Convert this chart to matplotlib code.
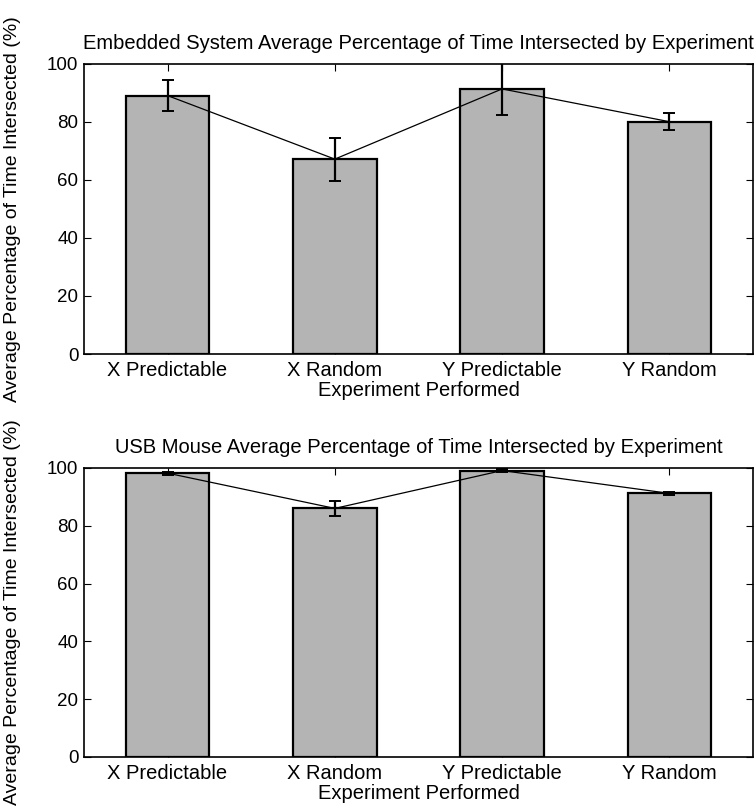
import numpy as np
import matplotlib.pyplot as plt

plt.rcParams['font.family'] = ['Liberation Sans', 'DejaVu Sans']

# mean percentage of time intersected, with spread, per experiment
experiments = ['X Predictable', 'X Random', 'Y Predictable', 'Y Random']
embedded_mean = [89.1, 67.2, 91.4, 80.1]
embedded_err = [5.4, 7.4, 9.1, 2.9]
usb_mean = [98.2, 86.0, 99.1, 91.2]
usb_err = [0.5, 2.6, 0.4, 0.5]

titles = ['Embedded System Average Percentage of Time Intersected by Experiment',
          'USB Mouse Average Percentage of Time Intersected by Experiment']
ylabel = 'Average Percentage of Time Intersected (%)'
xlabel = 'Experiment Performed'

fig = plt.figure(figsize=(7.56, 8.11), dpi=100)
ax_top = fig.add_axes([0.111, 0.5635, 0.885, 0.3576])
ax_bot = fig.add_axes([0.111, 0.0666, 0.885, 0.3564])

x = np.arange(1, len(experiments) + 1)

for ax, mean, err, title in [(ax_top, embedded_mean, embedded_err, titles[0]),
                             (ax_bot, usb_mean, usb_err, titles[1])]:
    ax.bar(x, mean, width=0.5, color='#b4b4b4', edgecolor='black', linewidth=1.6, zorder=2)
    ax.plot(x, mean, color='black', lw=0.9, zorder=3)
    ax.errorbar(x, mean, yerr=err, fmt='none', ecolor='black', elinewidth=1.6,
                capsize=4, capthick=1.4, zorder=4)
    ax.set_xlim(0.5, 4.5)
    ax.set_ylim(0, 100)
    ax.set_xticks(x)
    ax.set_xticklabels(experiments)
    ax.set_yticks(np.arange(0, 101, 20))
    ax.tick_params(direction='in', top=True, right=True, length=5)
    ax.tick_params(axis='x', labelsize=14.5, pad=5)
    ax.tick_params(axis='y', labelsize=13.5, pad=4)
    ax.set_title(title, fontsize=14.5, pad=11)
    ax.set_xlabel(xlabel, fontsize=14.5, labelpad=1)
    ax.set_ylabel(ylabel, fontsize=14)
    ax.yaxis.set_label_coords(-0.094, 0.5)
    for s in ax.spines.values():
        s.set_linewidth(1.2)

fig.savefig('out.png', dpi=100)
